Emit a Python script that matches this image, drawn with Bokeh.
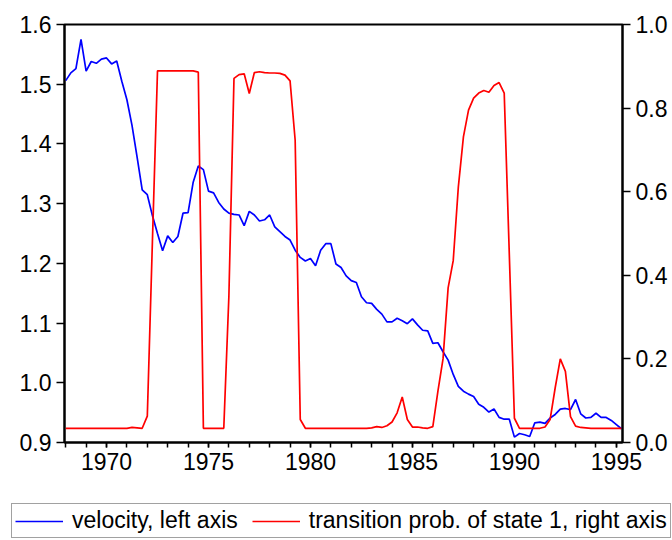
from bokeh.plotting import figure
from bokeh.layouts import column
from bokeh.models import (Range1d, LinearAxis, SingleIntervalTicker, FixedTicker,
                          NumeralTickFormatter, Legend, LegendItem, ColumnDataSource)
from bokeh.embed import file_html
from bokeh.resources import INLINE

# quarterly observations, 1968Q1 .. 1995Q2
start_year = 1968
velocity = [
    1.506, 1.519, 1.526, 1.575, 1.522, 1.538, 1.535, 1.542, 1.544, 1.534,
    1.539, 1.505, 1.474, 1.431, 1.378, 1.323, 1.315, 1.280, 1.250, 1.221,
    1.246, 1.235, 1.245, 1.284, 1.285, 1.336, 1.363, 1.357, 1.321, 1.318,
    1.302, 1.291, 1.284, 1.282, 1.281, 1.263, 1.287, 1.281, 1.271, 1.273,
    1.281, 1.261, 1.253, 1.245, 1.239, 1.222, 1.210, 1.204, 1.208, 1.196,
    1.222, 1.233, 1.233, 1.199, 1.193, 1.179, 1.171, 1.168, 1.144, 1.134,
    1.133, 1.123, 1.115, 1.102, 1.102, 1.108, 1.104, 1.099, 1.107, 1.097,
    1.088, 1.087, 1.066, 1.067, 1.052, 1.038, 1.014, 0.994, 0.986, 0.981,
    0.977, 0.964, 0.959, 0.951, 0.956, 0.942, 0.939, 0.939, 0.909, 0.915,
    0.913, 0.910, 0.933, 0.934, 0.932, 0.941, 0.947, 0.956, 0.957, 0.955,
    0.972, 0.948, 0.941, 0.942, 0.949, 0.942, 0.942, 0.937, 0.930, 0.923,
]
trans_prob = [
    0.034, 0.034, 0.034, 0.034, 0.034, 0.034, 0.034, 0.034, 0.034, 0.034,
    0.034, 0.034, 0.034, 0.036, 0.035, 0.034, 0.063, 0.480, 0.889, 0.889,
    0.889, 0.889, 0.889, 0.889, 0.889, 0.889, 0.886, 0.034, 0.034, 0.034,
    0.034, 0.034, 0.350, 0.871, 0.880, 0.882, 0.835, 0.885, 0.887, 0.885,
    0.884, 0.884, 0.883, 0.879, 0.865, 0.723, 0.055, 0.034, 0.034, 0.034,
    0.034, 0.034, 0.034, 0.034, 0.034, 0.034, 0.034, 0.034, 0.034, 0.034,
    0.035, 0.038, 0.036, 0.040, 0.049, 0.071, 0.109, 0.055, 0.037, 0.037,
    0.035, 0.034, 0.038, 0.123, 0.200, 0.370, 0.435, 0.611, 0.731, 0.795,
    0.824, 0.836, 0.842, 0.838, 0.854, 0.861, 0.836, 0.450, 0.058, 0.034,
    0.034, 0.034, 0.034, 0.034, 0.037, 0.055, 0.131, 0.200, 0.170, 0.062,
    0.039, 0.036, 0.035, 0.034, 0.034, 0.034, 0.034, 0.034, 0.034, 0.034,
]
dates = [start_year + i / 4 for i in range(len(velocity))]

left_ticks = [0.9, 1.0, 1.1, 1.2, 1.3, 1.4, 1.5, 1.6]
right_ticks = [0.0, 0.2, 0.4, 0.6, 0.8, 1.0]
legend_labels = ["velocity, left axis", "transition prob. of state 1, right axis"]
BLUE = "#0000FF"
RED = "#FF0000"

FONT = "Liberation Sans"
FS = "23px"

src = ColumnDataSource(dict(x=dates, vel=velocity, prob=trans_prob))

p = figure(width=672, height=480, output_backend="svg", toolbar_location=None,
           x_range=Range1d(1967.94, 1995.30), y_range=Range1d(0.9, 1.6),
           min_border_left=64, min_border_right=50, min_border_top=24,
           min_border_bottom=38, background_fill_color="white",
           border_fill_color="white")
p.extra_y_ranges = {"prob": Range1d(0.0, 1.0)}
p.grid.visible = False
p.outline_line_color = "black"
p.outline_line_width = 2

xa = p.xaxis[0]
xa.ticker = SingleIntervalTicker(interval=5, num_minor_ticks=5)
xa.major_tick_out = 5
xa.major_tick_in = 0
xa.minor_tick_out = 5
xa.minor_tick_in = 0
xa.major_label_standoff = 5

ya = p.yaxis[0]
ya.ticker = FixedTicker(ticks=left_ticks)
ya.formatter = NumeralTickFormatter(format="0.0")
ya.major_tick_out = 8
ya.major_tick_in = 0
ya.major_label_standoff = 5

ra = LinearAxis(y_range_name="prob", ticker=FixedTicker(ticks=right_ticks),
                formatter=NumeralTickFormatter(format="0.0"))
ra.major_tick_out = 8
ra.major_tick_in = 0
ra.major_label_standoff = 5
p.add_layout(ra, "right")

for ax in (xa, ya, ra):
    ax.axis_line_color = "black"
    ax.axis_line_width = 2
    ax.major_tick_line_color = "black"
    ax.major_tick_line_width = 1.5
    ax.minor_tick_line_color = "black" if ax is xa else None
    ax.minor_tick_line_width = 1.5
    ax.major_label_text_font = FONT
    ax.major_label_text_font_size = FS
    ax.major_label_text_color = "black"

p.line("x", "vel", source=src, line_color=BLUE, line_width=1.7)
p.line("x", "prob", source=src, y_range_name="prob", line_color=RED, line_width=1.7)

# legend strip below the chart (its own frame spans the whole strip)
lg = figure(width=672, height=60, output_backend="svg", toolbar_location=None,
            x_range=Range1d(0, 1), y_range=Range1d(0, 1),
            x_axis_location=None, y_axis_location=None,
            min_border_left=0, min_border_right=0, min_border_top=0,
            min_border_bottom=0, background_fill_color="white",
            border_fill_color="white")
lg.frame_align = False
lg.grid.visible = False
lg.outline_line_color = None
# keys reuse the series; they fall outside this strip's ranges, so only the legend shows
k1 = lg.line("x", "vel", source=src, line_color=BLUE, line_width=1.7)
k2 = lg.line("x", "prob", source=src, line_color=RED, line_width=1.7)

legend = Legend(items=[LegendItem(label=legend_labels[0], renderers=[k1]),
                       LegendItem(label=legend_labels[1], renderers=[k2])],
                location=(11, 2), orientation="horizontal",
                glyph_width=48, glyph_height=20, label_standoff=9, spacing=14,
                padding=3, margin=0, border_line_color="#444444",
                border_line_width=1, background_fill_color="white",
                background_fill_alpha=1.0, label_text_font=FONT,
                label_text_font_size=FS, label_text_color="black")
lg.add_layout(legend, "center")

layout = column(p, lg, spacing=0)
open("out.html", "w").write(file_html(layout, INLINE))
